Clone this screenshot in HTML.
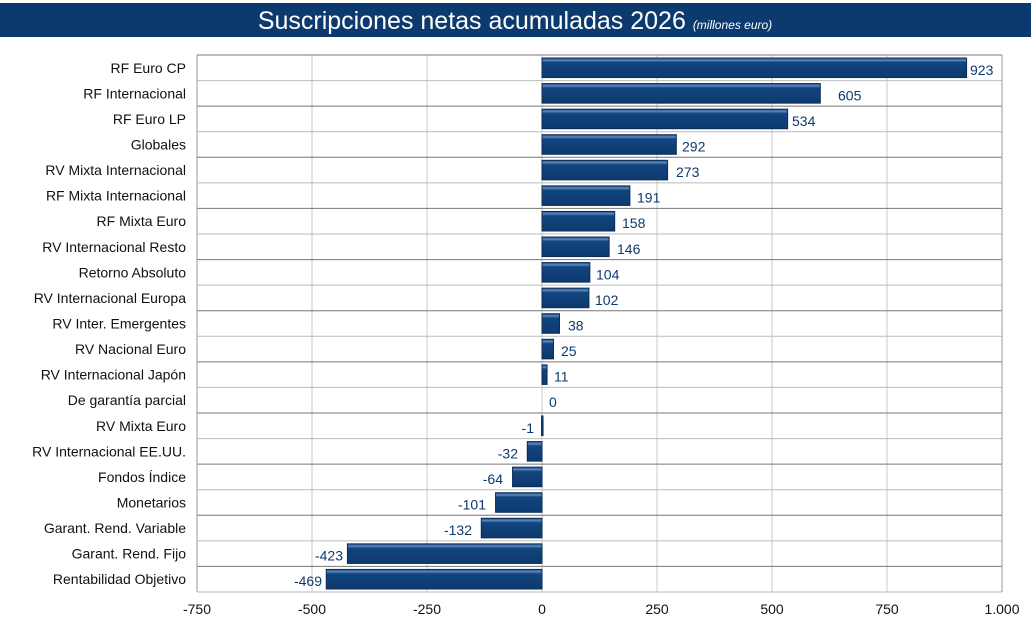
<!DOCTYPE html>
<html><head><meta charset="utf-8"><style>
body{margin:0;background:#fff;width:1031px;height:633px;overflow:hidden;font-family:"Liberation Sans",sans-serif}
</style></head><body>
<svg id="s" width="1031" height="633" xmlns="http://www.w3.org/2000/svg" font-family="Liberation Sans, sans-serif">
<defs><linearGradient id="g" x1="0" y1="0" x2="0" y2="1">
<stop offset="0" stop-color="#1d4f8a"/><stop offset="0.12" stop-color="#5f86b8"/><stop offset="0.22" stop-color="#12457f"/><stop offset="1" stop-color="#0d3a6e"/></linearGradient></defs>
<rect x="0" y="3" width="1031" height="34" fill="#0d3a6e"/>
<text x="515" y="29" text-anchor="middle" fill="#fff" font-size="25">Suscripciones netas acumuladas 2026 <tspan font-size="12" font-style="italic">(millones euro)</tspan></text>
</svg>
<script>
const s=document.getElementById('s'),NS='http://www.w3.org/2000/svg';
function e(t,a,txt){const n=document.createElementNS(NS,t);for(const k in a)n.setAttribute(k,a[k]);if(txt!=null)n.textContent=txt;s.appendChild(n);return n;}
const cats=["RF Euro CP","RF Internacional","RF Euro LP","Globales","RV Mixta Internacional","RF Mixta Internacional","RF Mixta Euro","RV Internacional Resto","Retorno Absoluto","RV Internacional Europa","RV Inter. Emergentes","RV Nacional Euro","RV Internacional Japón","De garantía parcial","RV Mixta Euro","RV Internacional EE.UU.","Fondos Índice","Monetarios","Garant. Rend. Variable","Garant. Rend. Fijo","Rentabilidad Objetivo"];
const vals=[923,605,534,292,273,191,158,146,104,102,38,25,11,0,-1,-32,-64,-101,-132,-423,-469];
const lab=[970,838,792,682,676,637,622,617,596,595,568,561,554,549,534,518,503,486,472,343,322];
const L=197,R=1002,T=55,B=592,x0=542,k=0.46,rh=(B-T)/21;
for(let i=0;i<8;i++){const x=L+i*115;e('line',{x1:x,y1:T,x2:x,y2:B,stroke:'#c8c8c8','stroke-width':1});
e('text',{x:x,y:614,'text-anchor':'middle','font-size':14,fill:'#111'},['-750','-500','-250','0','250','500','750','1.000'][i]);}
for(let i=0;i<=21;i++){const y=T+i*rh;e('line',{x1:L,y1:y,x2:R,y2:y,stroke:i%2?'#bbb':'#777','stroke-width':1});}
e('line',{x1:R,y1:T,x2:R,y2:B,stroke:'#999'});e('line',{x1:L,y1:T,x2:L,y2:B,stroke:'#999'});
for(let i=0;i<21;i++){const y=T+i*rh,v=vals[i];
const x1=v>=0?x0:x0+v*k,w=Math.abs(v)*k;
if(w>0)e('rect',{x:x1,y:y+3,width:Math.max(w,1.5),height:rh-6,fill:'url(#g)',stroke:'#0a2c55','stroke-width':1});
e('text',{x:186,y:y+rh/2+5,'text-anchor':'end','font-size':14,fill:'#111'},cats[i]);
e('text',{x:lab[i],y:y+rh/2+7,'text-anchor':v<0?'end':'start','font-size':14,fill:'#0d3a6e'},String(v));}
</script>
</body></html>
